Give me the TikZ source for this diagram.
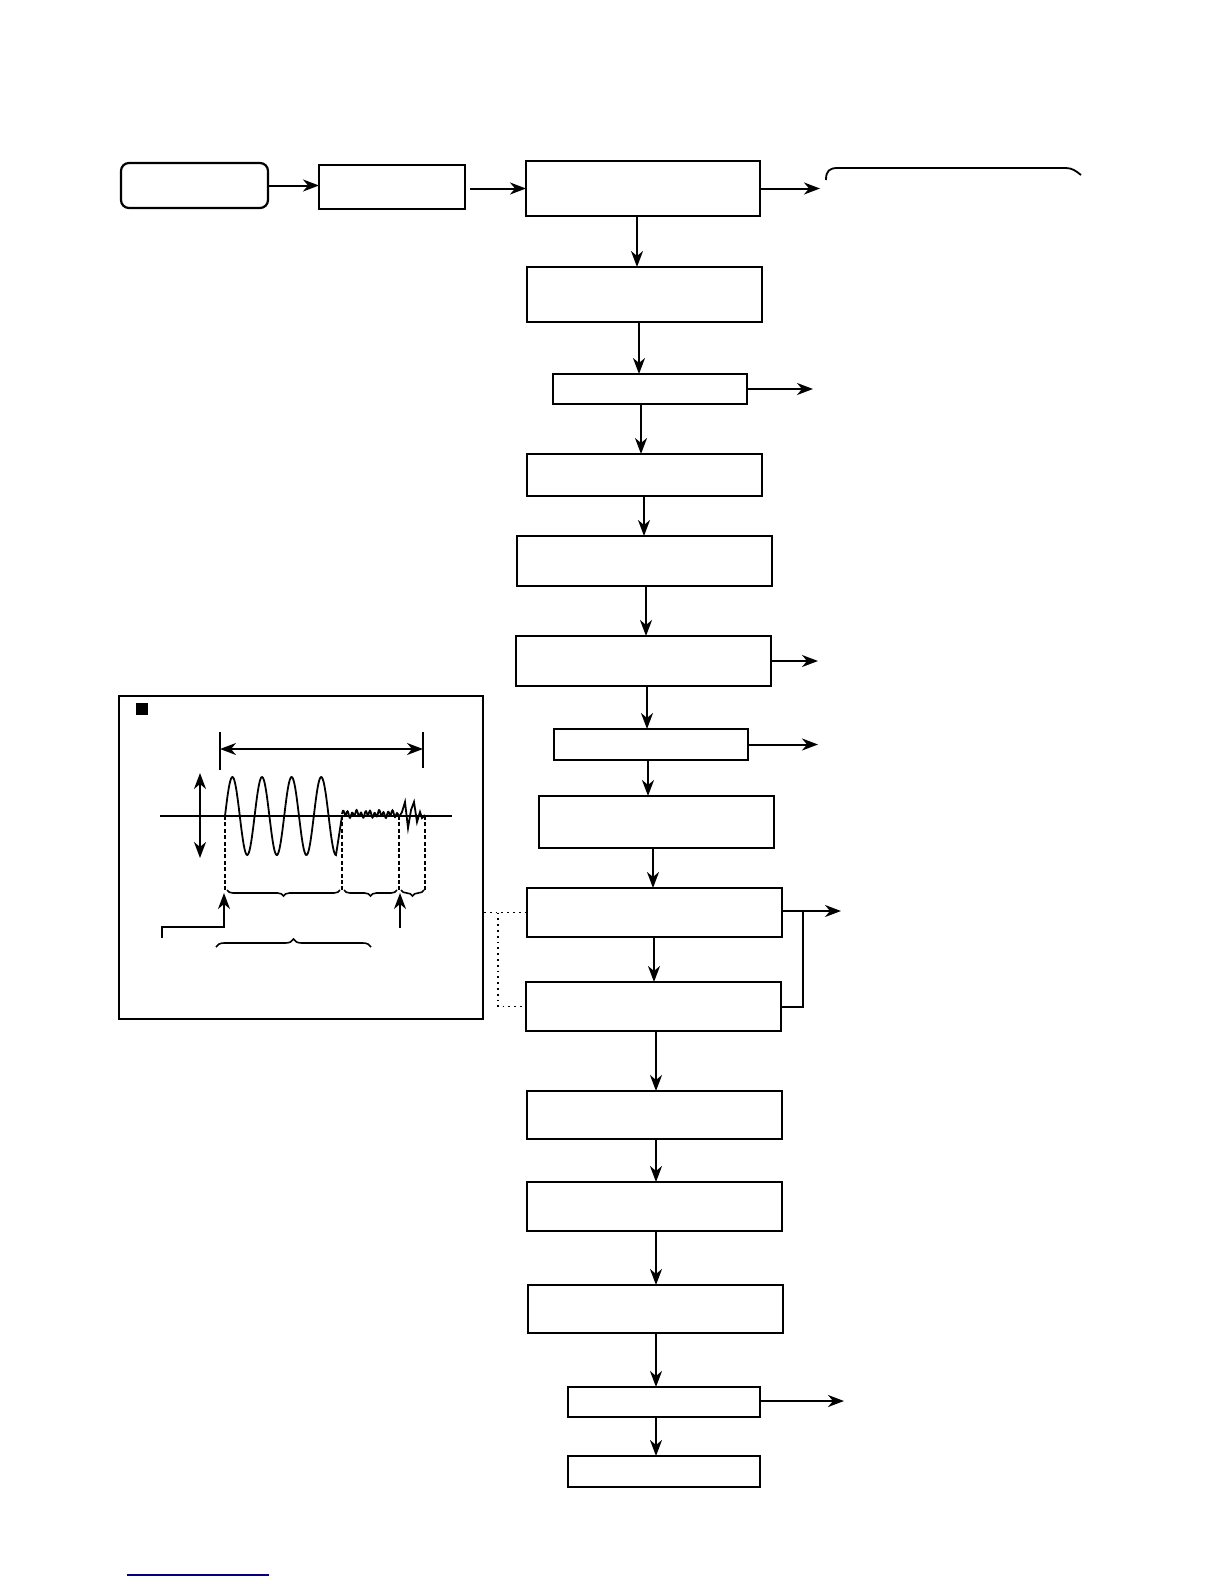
\documentclass[tikz,border=0pt]{standalone}
\usepackage{xcolor}
\usetikzlibrary{arrows.meta,decorations.pathreplacing,calc}
\definecolor{linkblue}{RGB}{0,0,128}

\begin{document}
\begin{tikzpicture}[
      x=0.5pt, y=-0.5pt,
      >={Stealth[length=8pt,width=6pt,inset=2.5pt]},
      flow/.style={->, line width=1pt},
      blk/.style={draw, line width=1.1pt, inner sep=0pt, outer sep=0pt},
      startblk/.style={blk, rounded corners=4pt},
      dimline/.style={line width=0.9pt},
      guide/.style={line width=0.6pt, dash pattern=on 2pt off 1.2pt},
      wave/.style={line width=0.9pt},
      brc/.style={decorate, decoration={brace, amplitude=3pt}, line width=0.8pt}
  ]
    \useasboundingbox (0,0) rectangle (1224,1584);

    % top row
    \node[startblk, minimum width=73.5pt, minimum height=22.5pt] (start) at (194.5,185.5) {};
    \node[blk, minimum width=73pt, minimum height=22pt] (b2) at (392,187) {};
    \node[blk, minimum width=117pt, minimum height=27.5pt] (b3) at (643,188.5) {};

    % main column
    \node[blk, minimum width=117.5pt, minimum height=27.5pt] (b4) at (644.5,294.5) {};
    \node[blk, minimum width=97pt, minimum height=15pt] (b5) at (650,389) {};
    \node[blk, minimum width=117.5pt, minimum height=21pt] (b6) at (644.5,475) {};
    \node[blk, minimum width=127.5pt, minimum height=25pt] (b7) at (644.5,561) {};
    \node[blk, minimum width=127.5pt, minimum height=25pt] (b8) at (643.5,661) {};
    \node[blk, minimum width=97pt, minimum height=15.5pt] (b9) at (651,744.5) {};
    \node[blk, minimum width=117.5pt, minimum height=26pt] (b10) at (656.5,822) {};
    \node[blk, minimum width=127.5pt, minimum height=24.5pt] (b11) at (654.5,912.5) {};
    \node[blk, minimum width=127.5pt, minimum height=24.5pt] (b12) at (653.5,1006.5) {};
    \node[blk, minimum width=127.5pt, minimum height=24pt] (b13) at (654.5,1115) {};
    \node[blk, minimum width=127.5pt, minimum height=24.5pt] (b14) at (654.5,1206.5) {};
    \node[blk, minimum width=127.5pt, minimum height=24pt] (b15) at (655.5,1309) {};
    \node[blk, minimum width=96pt, minimum height=15pt] (b16) at (664,1402) {};
    \node[blk, minimum width=96pt, minimum height=15.5pt] (b17) at (664,1471.5) {};

    % waveform inset
    \node[draw, line width=1pt, inner sep=0pt, minimum width=182pt, minimum height=161.5pt] (inset) at (301,857.5) {};

    % free ends of the side outputs
    \coordinate (o3) at (820,188);
    \coordinate (o5) at (813,387);
    \coordinate (o8) at (818,661);
    \coordinate (o9) at (818,744.5);
    \coordinate (o11) at (841,911);
    \coordinate (j11) at (803,911);
    \coordinate (o16) at (844,1401);

    \draw[flow] (start.east) -- (start.east -| b2.west);
    \draw[flow] ([xshift=2.5pt]b2.east |- b3.west) -- (b3.west);
    \foreach \a/\b/\x in {b3/b4/637, b4/b5/639, b5/b6/641, b6/b7/644, b7/b8/646, b8/b9/647,
        b9/b10/648, b10/b11/653, b11/b12/654, b12/b13/656, b13/b14/656, b14/b15/656,
        b15/b16/656, b16/b17/656}
      \draw[flow] (\a.south -| \x,0) -- (\b.north -| \x,0);

    \draw[flow] (b3.east) -- (b3.east -| o3);
    \draw[flow] (b5.east) -- (b5.east -| o5);
    \draw[flow] (b8.east) -- (b8.east -| o8);
    \draw[flow] (b9.east) -- (b9.east -| o9);
    \draw[flow] (b11.east |- o11) -- (o11);
    \draw[line width=1pt] (b12.east) -| (j11);
    \draw[flow] (b16.east |- o16) -- (o16);

    \draw[dotted, line width=0.9pt] (inset.east |- b11.west) -- (b11.west);
    \draw[dotted, line width=0.9pt] (498,912.5) |- (b12.west);

    % bracket top right
    \draw[line width=0.9pt] (826,180) .. controls (826,171) and (829,168) .. (838,168)
      -- (1066,168) .. controls (1072,168) and (1076,171) .. (1081,175);

    % inset contents
    \fill (136,703) rectangle (148,715);
    \draw[dimline] (220,732) -- (220,770);
    \draw[dimline] (423,732) -- (423,768);
    \draw[dimline, <->] (220,749) -- (423,749);
    \draw[dimline, <->] (200,773) -- (200,858);
    \draw[line width=0.9pt] (160,816) -- (452,816);
    \draw[wave] plot[domain=225:336, samples=150] (\x,{816-39*sin((\x-225)/29.6*360)}) -- (342,816);
    \draw[wave] plot[domain=342:399, samples=115] (\x,{814-2.5*sin((\x-342)*80)-1.5*sin((\x-342)*31)})
      -- (402,812) -- (405,802) -- (408,828) -- (411,810) -- (414,802) -- (417,822)
      -- (420,812) -- (422,818) -- (425,815);
    \foreach \x in {225,342,399,425}
      \draw[guide] (\x,816) -- (\x,890);
    \draw[brc, decoration={mirror}] (227,890) -- (340,890);
    \draw[brc, decoration={mirror}] (344,890) -- (397,890);
    \draw[brc, decoration={mirror}] (401,890) -- (424,890);
    \draw[dimline, ->] (162,938) -- (162,927) -- (224,927) -- (224,893);
    \draw[dimline, ->] (400,928) -- (400,893);
    \draw[brc, decoration={amplitude=4pt}] (216,947) -- (371,947);

    % link underline
    \draw[linkblue, line width=0.9pt] (127,1575) -- (269,1575);
  \end{tikzpicture}
\end{document}
